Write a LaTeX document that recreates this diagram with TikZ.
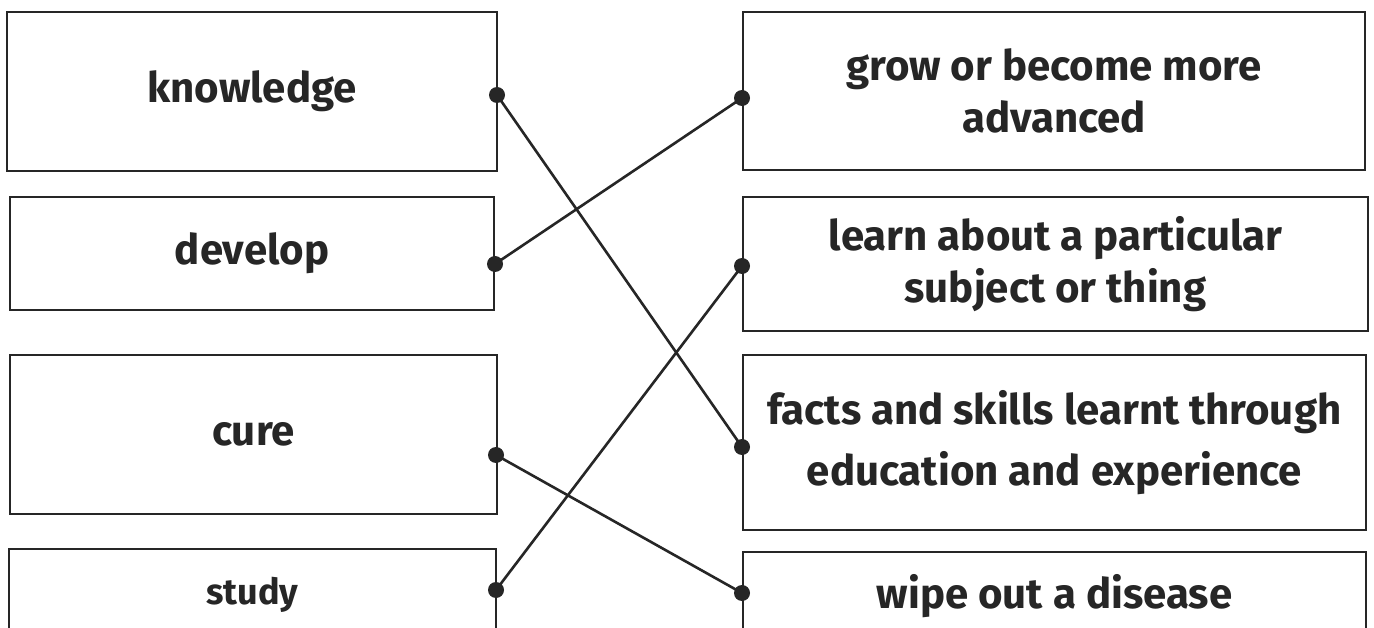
\documentclass[tikz,border=0pt]{standalone}
\usepackage{fontspec}
\setmainfont{Fira Sans}
\definecolor{inkgray}{HTML}{262626}
\tikzset{
  card/.style={draw=inkgray,line width=2.8pt,align=center,inner sep=0pt,
    font=\fontsize{42}{52}\selectfont\bfseries,text=inkgray},
  dot/.style={circle,fill=inkgray,inner sep=0pt,minimum size=16pt},
  link/.style={inkgray,line width=2.6pt}
}

\begin{document}
\begin{tikzpicture}[x=1pt,y=-1pt]
  \clip (0,0) rectangle (1374,628);
  \fill[white] (0,0) rectangle (1374,628);
  \node[card,minimum width=490,minimum height=159] (knowledge) at (252,91.5) {knowledge};
  \node[card,minimum width=484,minimum height=113] (develop) at (252,253.5) {develop};
  \node[card,minimum width=487,minimum height=159] (cure) at (253.5,434.5) {cure};
  \node[card,minimum width=487,minimum height=91,font=\fontsize{36}{44}\selectfont\bfseries] (study) at (252.5,594.5) {study};
  \node[card,minimum width=622,minimum height=158] (grow) at (1054,91) {grow or become more\\advanced};
  \node[card,minimum width=625,minimum height=134] (learn) at (1055.5,264) {learn about a particular\\subject or thing};
  \node[card,minimum width=623,minimum height=175] (facts) at (1054.5,442.5) {facts and skills learnt through\\[9pt]education and experience};
  \node[card,minimum width=623,minimum height=88] (wipe) at (1054.5,596) {wipe out a disease};
  \node[dot] (knowledgedot) at (497,95) {};
  \node[dot] (developdot) at (495,264) {};
  \node[dot] (curedot) at (496,455) {};
  \node[dot] (studydot) at (496,590) {};
  \node[dot] (growdot) at (742,98) {};
  \node[dot] (learndot) at (742,266) {};
  \node[dot] (factsdot) at (742,447) {};
  \node[dot] (wipedot) at (742,593) {};
  \draw[link] (knowledgedot.center) -- (factsdot.center);
  \draw[link] (developdot.center) -- (growdot.center);
  \draw[link] (curedot.center) -- (wipedot.center);
  \draw[link] (studydot.center) -- (learndot.center);
\end{tikzpicture}
\end{document}
